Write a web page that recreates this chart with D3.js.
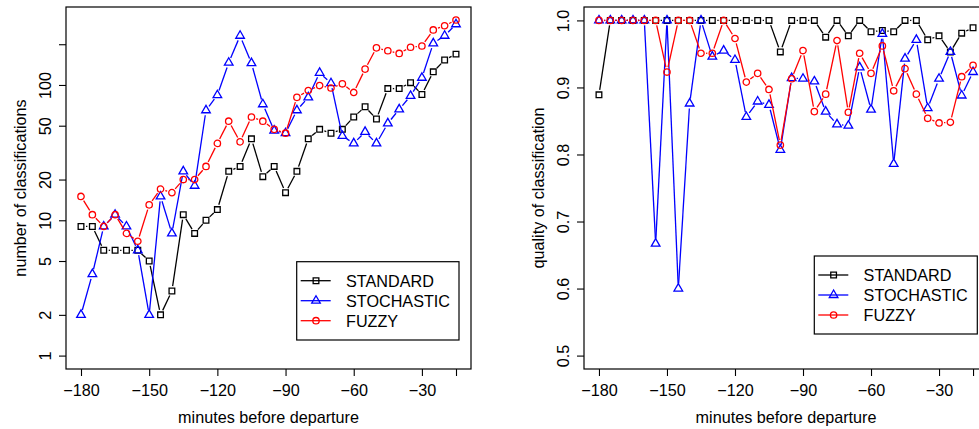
<!DOCTYPE html>
<html><head><meta charset="utf-8">
<script src="https://cdn.jsdelivr.net/npm/d3@7"></script>
<style>
body{margin:0;background:#fff}
svg{display:block;font-family:"Liberation Sans",Arial,sans-serif}
</style>
</head><body>
<svg id="chart" width="979" height="429"></svg>
<script>
// ---------- data ----------
const minutes = [-180,-175,-170,-165,-160,-155,-150,-145,-140,-135,-130,-125,-120,-115,-110,-105,-100,-95,-90,-85,-80,-75,-70,-65,-60,-55,-50,-45,-40,-35,-30,-25,-20,-15];

const countStandard   = [9,9,6,6,6,6,5,2,3,11,8,10,12,23,25,40,21,25,16,23,40,47,44,47,58,69,56,94,94,104,85,125,153,169];
const countStochastic = [2,4,9,11,9,6,2,15,8,23,18,65,84,146,231,145,72,46,44,65,81,123,103,42,37,45,37,52,66,83,113,203,231,281];
const countFuzzy      = [15,11,9,11,8,7,13,17,16,20,20,25,37,54,38,58,54,47,44,81,91,99,95,102,88,131,188,179,171,190,194,255,274,302];

const qualStandard   = [0.889,1,1,1,1,1,1,1,1,1,1,1,1,1,1,1,0.953,1,1,1,0.975,1,0.977,1,0.983,0.985,0.983,1,1,0.971,0.977,0.953,0.981,0.989];
const qualStochastic = [1,1,1,1,1,0.667,1,0.600,0.876,1,0.946,0.955,0.941,0.856,0.879,0.874,0.807,0.914,0.913,0.909,0.864,0.845,0.843,0.930,0.867,0.980,0.786,0.943,0.971,0.869,0.913,0.953,0.888,0.923];
const qualFuzzy      = [1,1,1,1,1,1,0.923,1,1,0.951,0.951,1,0.973,0.908,0.921,0.897,0.814,0.913,0.955,0.864,0.890,0.970,0.863,0.951,0.921,0.962,0.895,0.928,0.890,0.854,0.847,0.848,0.916,0.933];

const seriesNames  = ["STANDARD","STOCHASTIC","FUZZY"];
const seriesColors = ["#000000","#0000ff","#ff0000"];
const seriesShapes = ["square","triangle","circle"];

const xTickValues = [-180,-150,-120,-90,-60,-30,-15];
const xTickLabels = ["\u2212180","\u2212150","\u2212120","\u221290","\u221260","\u221230",""];
const countTickValues = [1,2,5,10,20,50,100,200];
const countTickLabels = ["1","2","5","10","20","50","100",""];
const countLimits = [1,300];
const qualTickValues = [0.5,0.6,0.7,0.8,0.9,1.0];
const qualTickLabels = ["0.5","0.6","0.7","0.8","0.9","1.0"];
const qualLimits = [0.5,1.0];

const xTitle = "minutes before departure";
const yTitleLeft = "number of classifications";
const yTitleRight = "quality of classification";

// ---------- layout ----------
const W = 979, H = 429;
const FS = 16.2;
const svg = d3.select("#chart");
svg.append("rect").attr("width",W).attr("height",H).attr("fill","#fff");

const plotTop = 7, plotBottom = 369;
const panels = [
  {left:66, right:471, log:true, series:[countStandard,countStochastic,countFuzzy],
   ticks:countTickValues, labels:countTickLabels, limits:countLimits, title:yTitleLeft,
   legend:{x:296.7,y:261.7,w:162.3,h:78.3}},
  {left:584, right:988, log:false, series:[qualStandard,qualStochastic,qualFuzzy],
   ticks:qualTickValues, labels:qualTickLabels, limits:qualLimits, title:yTitleRight,
   legend:{x:814.3,y:256,w:163,h:78}}
];

function markerPath(shape, x, y){
  const s = 3.2;
  if(shape==="square"){ const h = 0.886*s; return `M${x-h},${y-h}h${2*h}v${2*h}h${-2*h}Z`; }
  if(shape==="triangle"){ const r=1.5551*s, yc=0.7776*s, xc=1.3468*s;
    return `M${x},${y-r}L${x+xc},${y+yc}L${x-xc},${y+yc}Z`; }
  return `M${x+s},${y}A${s},${s} 0 1,1 ${x-s},${y}A${s},${s} 0 1,1 ${x+s},${y}Z`;
}

const xExt = d3.extent(minutes), xPad = 0.04*(xExt[1]-xExt[0]);

panels.forEach(p=>{
  const g = svg.append("g");
  const x = d3.scaleLinear().domain([xExt[0]-xPad, xExt[1]+xPad]).range([p.left, p.right]);
  let y;
  if(p.log){
    const l0 = Math.log10(p.limits[0]), l1 = Math.log10(p.limits[1]), pad = 0.04*(l1-l0);
    y = d3.scaleLog().domain([Math.pow(10,l0-pad), Math.pow(10,l1+pad)]).range([plotBottom, plotTop]);
  } else {
    const pad = 0.04*(p.limits[1]-p.limits[0]);
    y = d3.scaleLinear().domain([p.limits[0]-pad, p.limits[1]+pad]).range([plotBottom, plotTop]);
  }

  // x axis
  const xa = g.append("g").attr("transform",`translate(0,${plotBottom})`)
    .call(d3.axisBottom(x).tickValues(xTickValues).tickFormat((d,i)=>xTickLabels[i]).tickSizeOuter(0).tickSize(7));
  xa.select(".domain").remove();
  xa.selectAll("line").attr("stroke","#000").attr("stroke-width",1.1);
  xa.selectAll("text").attr("y",26.5).attr("dy",null).attr("font-size",FS).attr("font-family","Liberation Sans, Arial, sans-serif").attr("fill","#000");

  // y axis
  const ya = g.append("g").attr("transform",`translate(${p.left},0)`)
    .call(d3.axisLeft(y).tickValues(p.ticks).tickFormat((d,i)=>p.labels[i]).tickSizeOuter(0).tickSize(7));
  ya.select(".domain").remove();
  ya.selectAll("line").attr("stroke","#000").attr("stroke-width",1.1);
  ya.selectAll("text").attr("transform","rotate(-90)").attr("x",0).attr("y",-15.5).attr("dy",null)
    .attr("text-anchor","middle").attr("font-size",FS).attr("font-family","Liberation Sans, Arial, sans-serif").attr("fill","#000");

  // box
  g.append("rect").attr("x",p.left).attr("y",plotTop).attr("width",p.right-p.left).attr("height",plotBottom-plotTop)
    .attr("fill","none").attr("stroke","#000").attr("stroke-width",1.2);

  // titles
  g.append("text").attr("x",(p.left+p.right)/2).attr("y",423).attr("text-anchor","middle")
    .attr("font-size",FS).text(xTitle);
  g.append("text").attr("transform",`translate(${p.left-40.5},${(plotTop+plotBottom)/2}) rotate(-90)`)
    .attr("text-anchor","middle").attr("font-size",FS).text(p.title);

  // series
  const gap = 5;
  p.series.forEach((vals,si)=>{
    const col = seriesColors[si];
    const pts = minutes.map((m,i)=>[x(m), y(vals[i])]);
    const segs = [];
    for(let i=0;i<pts.length-1;i++){
      const [x1,y1]=pts[i],[x2,y2]=pts[i+1];
      const dx=x2-x1, dy=y2-y1, d=Math.hypot(dx,dy);
      if(d>2*gap){ const ux=dx/d, uy=dy/d; segs.push([x1+ux*gap,y1+uy*gap,x2-ux*gap,y2-uy*gap]); }
    }
    g.append("g").selectAll("line").data(segs).join("line")
      .attr("x1",d=>d[0]).attr("y1",d=>d[1]).attr("x2",d=>d[2]).attr("y2",d=>d[3])
      .attr("stroke",col).attr("stroke-width",1.3);
    g.append("g").selectAll("path").data(pts).join("path")
      .attr("d",d=>markerPath(seriesShapes[si],d[0],d[1]))
      .attr("fill","none").attr("stroke",col).attr("stroke-width",1.3);
  });

  // legend
  const L = p.legend;
  const lg = g.append("g");
  lg.append("rect").attr("x",L.x).attr("y",L.y).attr("width",L.w).attr("height",L.h)
    .attr("fill","#fff").attr("stroke","#000").attr("stroke-width",1.2);
  seriesNames.forEach((name,i)=>{
    const cy = L.y + 19 + i*20;
    lg.append("line").attr("x1",L.x+4).attr("x2",L.x+34).attr("y1",cy).attr("y2",cy)
      .attr("stroke",seriesColors[i]).attr("stroke-width",1.3);
    lg.append("path").attr("d",markerPath(seriesShapes[i],L.x+19.3,cy))
      .attr("fill","none").attr("stroke",seriesColors[i]).attr("stroke-width",1.3);
    lg.append("text").attr("x",L.x+49.3).attr("y",cy+5.8).attr("font-size",FS).text(name);
  });
});
</script>
</body></html>
